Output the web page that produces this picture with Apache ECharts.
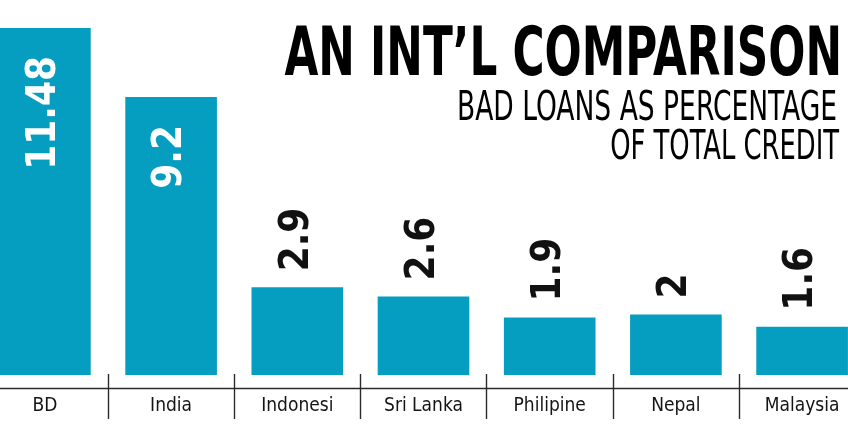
<!DOCTYPE html>
<html>
<head>
<meta charset="utf-8">
<script src="https://cdn.jsdelivr.net/npm/echarts@6/dist/echarts.min.js"></script>
<style>
html,body{margin:0;padding:0;background:#fff;}
#chart{width:848px;height:427px;}
</style>
</head>
<body>
<div id="chart"></div>
<script>
const categories = ['BD', 'India', 'Indonesi', 'Sri Lanka', 'Philipine', 'Nepal', 'Malaysia'];
const values = [11.48, 9.2, 2.9, 2.6, 1.9, 2, 1.6];
const titleText = 'AN INT\u2019L COMPARISON';
const subtitleLines = ['BAD LOANS AS PERCENTAGE', 'OF TOTAL CREDIT'];

const NARROW = "'DejaVu Sans Condensed', 'Liberation Sans Narrow', sans-serif";
const BAR = '#059dc0';
const AXIS = '#2b2b2b';

const chart = echarts.init(document.getElementById('chart'), null, {renderer: 'canvas'});

const insideLabel = {
  position: 'insideTop', rotate: 90, align: 'right', verticalAlign: 'middle',
  distance: 28, color: '#ffffff'
};

const option = {
  backgroundColor: '#ffffff',
  animation: false,
  grid: {left: -18.2, right: -17.2, top: 28, bottom: 52, containLabel: false, outerBoundsMode: 'none'},
  xAxis: [
    {
      type: 'category', data: categories, position: 'bottom', offset: 13,
      axisLine: {show: true, onZero: false, lineStyle: {color: AXIS, width: 1.4}},
      axisTick: {show: true, alignWithLabel: false, length: 31, lineStyle: {color: AXIS, width: 1.4}},
      axisLabel: {fontFamily: NARROW, fontSize: 19, color: '#141414', margin: 9, interval: 0},
      splitLine: {show: false}
    },
    {
      type: 'category', data: categories, position: 'bottom', offset: 13,
      axisLine: {show: false, onZero: false},
      axisTick: {show: true, inside: true, alignWithLabel: false, length: 14, lineStyle: {color: AXIS, width: 1.4}},
      axisLabel: {show: false},
      splitLine: {show: false}
    }
  ],
  yAxis: {type: 'value', min: 0, max: 11.48, show: false, splitLine: {show: false}},
  series: [{
    type: 'bar',
    xAxisIndex: 0,
    barCategoryGap: '27.4%',
    itemStyle: {color: BAR},
    label: {
      show: true, position: 'top', rotate: 90, align: 'left', verticalAlign: 'middle',
      distance: 16, fontFamily: NARROW, fontWeight: 'bold', fontSize: 40, color: '#111111'
    },
    data: values.map(v => v > 5 ? {value: v, label: insideLabel} : {value: v})
  }],
  graphic: [
    {
      type: 'text', x: 842, y: 57, scaleX: 0.715, scaleY: 1,
      style: {text: titleText, x: 0, y: 0, align: 'right', verticalAlign: 'middle',
        font: "bold 68px 'DejaVu Sans Condensed', sans-serif", fill: '#000000'}
    },
    {
      type: 'text', x: 837, y: 109, scaleX: 0.72, scaleY: 1,
      style: {text: subtitleLines[0], x: 0, y: 0, align: 'right', verticalAlign: 'middle',
        font: "41px 'DejaVu Sans Condensed', sans-serif", fill: '#000000'}
    },
    {
      type: 'text', x: 839, y: 148, scaleX: 0.70, scaleY: 1,
      style: {text: subtitleLines[1], x: 0, y: 0, align: 'right', verticalAlign: 'middle',
        font: "41px 'DejaVu Sans Condensed', sans-serif", fill: '#000000'}
    }
  ]
};
chart.setOption(option);
</script>
</body>
</html>
